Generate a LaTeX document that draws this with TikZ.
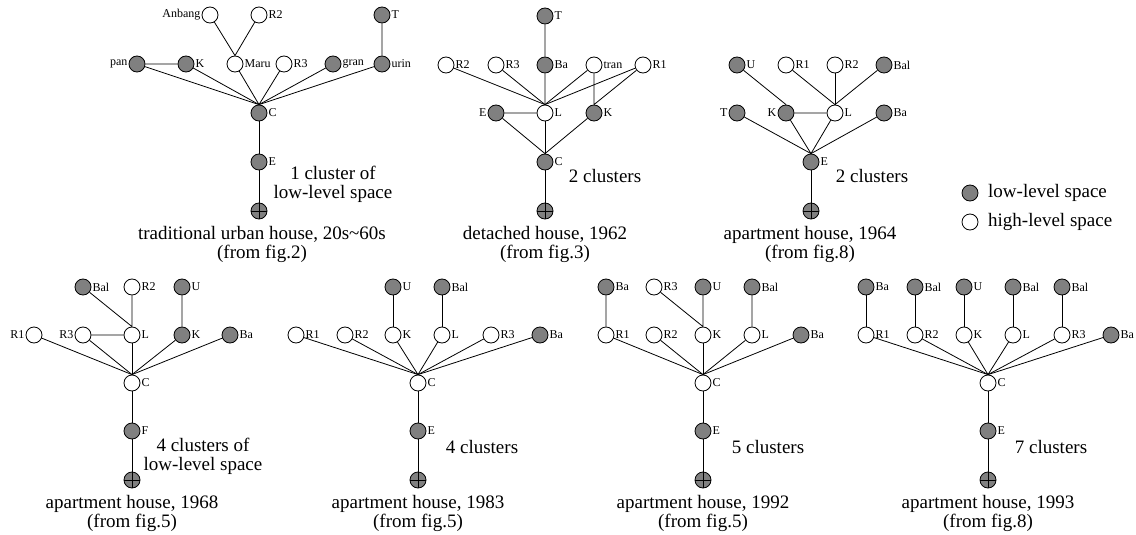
\documentclass[tikz,border=0pt]{standalone}
\usepackage{fontspec}
\setmainfont{Liberation Serif}
\begin{document}
\begin{tikzpicture}[x=1pt,y=-1pt,
  sp/.style={circle, draw=black, line width=0.8pt, minimum size=16pt, inner sep=0pt},
  lo/.style={sp, fill=gray},
  hi/.style={sp, fill=white},
  gnd/.style={lo, path picture={
      \draw[line width=0.8pt] (path picture bounding box.north) -- (path picture bounding box.south)
                              (path picture bounding box.west) -- (path picture bounding box.east);}},
  every label/.style={font=\fontsize{12}{12}\selectfont, inner sep=1pt},
  label distance=0pt,
  link/.style={line width=0.8pt},
  big/.style={font=\fontsize{19}{19}\selectfont, align=center, inner sep=0pt}]
\useasboundingbox (0,0) rectangle (1136,535);

% ---------- traditional urban house ----------
\node[hi, label=left:Anbang] (aAnbang) at (210,15) {};
\node[hi, label=right:R2] (aR2) at (259,15) {};
\node[lo, label=right:T] (aT) at (382,15) {};
\node[lo, label=left:pan] (apan) at (137,64) {};
\node[lo, label=right:K] (aK) at (186,64) {};
\node[hi, label=right:Maru] (aMaru) at (235,64) {};
\node[hi, label=right:R3] (aR3) at (284,64) {};
\node[lo, label=right:gran] (agran) at (333,64) {};
\node[lo, label=right:urin] (aurin) at (382,64) {};
\node[lo, label=right:C] (aC) at (259,113) {};
\node[lo, label=right:E] (aE) at (259,162) {};
\node[gnd] (aG) at (259,211) {};
\draw[link] (aAnbang) -- (aMaru.north) (aR2) -- (aMaru.north) (aT) -- (aurin) (apan) -- (aK);
\foreach \n in {apan,aK,aMaru,aR3,agran,aurin} \draw[link] (\n) -- (aC.north);
\draw[link] (aC) -- (aE) (aE) -- (aG);
\node[big] (atxt) at (333,184) {1 cluster of\\low-level space};
\node[big] (acap) at (262,244) {traditional urban house, 20s\textasciitilde60s\\(from fig.2)};

% ---------- detached house ----------
\node[lo, label=right:T] (bT) at (545,16) {};
\node[hi, label=right:R2] (bR2) at (446,65) {};
\node[hi, label=right:R3] (bR3) at (496,65) {};
\node[lo, label=right:Ba] (bBa) at (545,65) {};
\node[hi, label=right:tran] (btran) at (594,65) {};
\node[hi, label=right:R1] (bR1) at (643,65) {};
\node[lo, label=left:E] (bE) at (496,113) {};
\node[hi, label=right:L] (bL) at (545,113) {};
\node[lo, label=right:K] (bK) at (594,113) {};
\node[lo, label=right:C] (bC) at (545,162) {};
\node[gnd] (bG) at (545,211) {};
\draw[link] (bT) -- (bBa) (bBa) -- (bL) (bE) -- (bL) (btran) -- (bK) (bR1) -- (bK.north);
\foreach \n in {bR2,bR3,btran,bR1} \draw[link] (\n) -- (bL.north);
\foreach \n in {bE,bL,bK} \draw[link] (\n) -- (bC.north);
\draw[link] (bC) -- (bG);
\node[big] (btxt) at (605,176) {2 clusters};
\node[big] (bcap) at (545,244) {detached house, 1962\\(from fig.3)};

% ---------- apartment house 1964 ----------
\node[lo, label=right:U] (cU) at (737,65) {};
\node[hi, label=right:R1] (cR1) at (786,65) {};
\node[hi, label=right:R2] (cR2) at (835,65) {};
\node[lo, label=right:Bal] (cBal) at (884,65) {};
\node[lo, label=left:T] (cT) at (737,113) {};
\node[lo, label=left:K] (cK) at (786,113) {};
\node[hi, label=right:L] (cL) at (835,113) {};
\node[lo, label=right:Ba] (cBa) at (884,113) {};
\node[lo, label=right:E] (cE) at (811,162) {};
\node[gnd] (cG) at (811,211) {};
\draw[link] (cU) -- (cK.north) (cK) -- (cL);
\foreach \n in {cR1,cR2,cBal} \draw[link] (\n) -- (cL.north);
\foreach \n in {cT,cK,cL,cBa} \draw[link] (\n) -- (cE.north);
\draw[link] (cE) -- (cG);
\node[big] (ctxt) at (872,176) {2 clusters};
\node[big] (ccap) at (810,244) {apartment house, 1964\\(from fig.8)};

% ---------- legend ----------
\node[lo] (klo) at (970,193) {};
\node[hi] (khi) at (970,222) {};
\node[big, anchor=west] (klot) at (988,193) {low-level space};
\node[big, anchor=west] (khit) at (988,222) {high-level space};

% ---------- apartment house 1968 ----------
\node[lo, label=right:Bal] (dBal) at (83,287) {};
\node[hi, label=right:R2] (dR2) at (132,287) {};
\node[lo, label=right:U] (dU) at (182,287) {};
\node[hi, label=left:R1] (dR1) at (34,335) {};
\node[hi, label=left:R3] (dR3) at (83,335) {};
\node[hi, label=right:L] (dL) at (132,335) {};
\node[lo, label=right:K] (dK) at (182,335) {};
\node[lo, label=right:Ba] (dBa) at (230,335) {};
\node[hi, label=right:C] (dC) at (132,383) {};
\node[lo, label=right:F] (dF) at (132,431) {};
\node[gnd] (dG) at (132,480) {};
\draw[link] (dBal) -- (dL.north) (dR2) -- (dL) (dU) -- (dK) (dR3) -- (dL);
\foreach \n in {dR1,dR3,dL,dK,dBa} \draw[link] (\n) -- (dC.north);
\draw[link] (dC) -- (dF) (dF) -- (dG);
\node[big] (dtxt) at (203,456) {4 clusters of\\low-level space};
\node[big] (dcap) at (132,513) {apartment house, 1968\\(from fig.5)};

% ---------- apartment house 1983 ----------
\node[lo, label=right:U] (eU) at (393,287) {};
\node[lo, label=right:Bal] (eBal) at (442,287) {};
\node[hi, label=right:R1] (eR1) at (296,335) {};
\node[hi, label=right:R2] (eR2) at (345,335) {};
\node[hi, label=right:K] (eK) at (393,335) {};
\node[hi, label=right:L] (eL) at (442,335) {};
\node[hi, label=right:R3] (eR3) at (491,335) {};
\node[lo, label=right:Ba] (eBa) at (540,335) {};
\node[hi, label=right:C] (eC) at (418,383) {};
\node[lo, label=right:E] (eE) at (418,431) {};
\node[gnd] (eG) at (418,480) {};
\draw[link] (eU) -- (eK) (eBal) -- (eL);
\foreach \n in {eR1,eR2,eK,eL,eR3,eBa} \draw[link] (\n) -- (eC.north);
\draw[link] (eC) -- (eE) (eE) -- (eG);
\node[big] (etxt) at (482,447) {4 clusters};
\node[big] (ecap) at (418,513) {apartment house, 1983\\(from fig.5)};

% ---------- apartment house 1992 ----------
\node[lo, label=right:Ba] (fBaT) at (606,287) {};
\node[hi, label=right:R3] (fR3) at (654,287) {};
\node[lo, label=right:U] (fU) at (703,287) {};
\node[lo, label=right:Bal] (fBal) at (752,287) {};
\node[hi, label=right:R1] (fR1) at (606,335) {};
\node[hi, label=right:R2] (fR2) at (654,335) {};
\node[hi, label=right:K] (fK) at (703,335) {};
\node[hi, label=right:L] (fL) at (752,335) {};
\node[lo, label=right:Ba] (fBa) at (801,335) {};
\node[hi, label=right:C] (fC) at (703,383) {};
\node[lo, label=right:E] (fE) at (703,431) {};
\node[gnd] (fG) at (703,480) {};
\draw[link] (fBaT) -- (fR1) (fR3) -- (fK.north) (fU) -- (fK) (fBal) -- (fL);
\foreach \n in {fR1,fR2,fK,fL,fBa} \draw[link] (\n) -- (fC.north);
\draw[link] (fC) -- (fE) (fE) -- (fG);
\node[big] (ftxt) at (768,447) {5 clusters};
\node[big] (fcap) at (703,513) {apartment house, 1992\\(from fig.5)};

% ---------- apartment house 1993 ----------
\node[lo, label=right:Ba] (gBaT) at (866,287) {};
\node[lo, label=right:Bal] (gBal1) at (915,287) {};
\node[lo, label=right:U] (gU) at (964,287) {};
\node[lo, label=right:Bal] (gBal2) at (1013,287) {};
\node[lo, label=right:Bal] (gBal3) at (1062,287) {};
\node[hi, label=right:R1] (gR1) at (866,335) {};
\node[hi, label=right:R2] (gR2) at (915,335) {};
\node[hi, label=right:K] (gK) at (964,335) {};
\node[hi, label=right:L] (gL) at (1013,335) {};
\node[hi, label=right:R3] (gR3) at (1062,335) {};
\node[lo, label=right:Ba] (gBa) at (1111,335) {};
\node[hi, label=right:C] (gC) at (988,383) {};
\node[lo, label=right:E] (gE) at (988,431) {};
\node[gnd] (gG) at (988,480) {};
\draw[link] (gBaT) -- (gR1) (gBal1) -- (gR2) (gU) -- (gK) (gBal2) -- (gL) (gBal3) -- (gR3);
\foreach \n in {gR1,gR2,gK,gL,gR3,gBa} \draw[link] (\n) -- (gC.north);
\draw[link] (gC) -- (gE) (gE) -- (gG);
\node[big] (gtxt) at (1051,447) {7 clusters};
\node[big] (gcap) at (988,513) {apartment house, 1993\\(from fig.8)};
\end{tikzpicture}
\end{document}
